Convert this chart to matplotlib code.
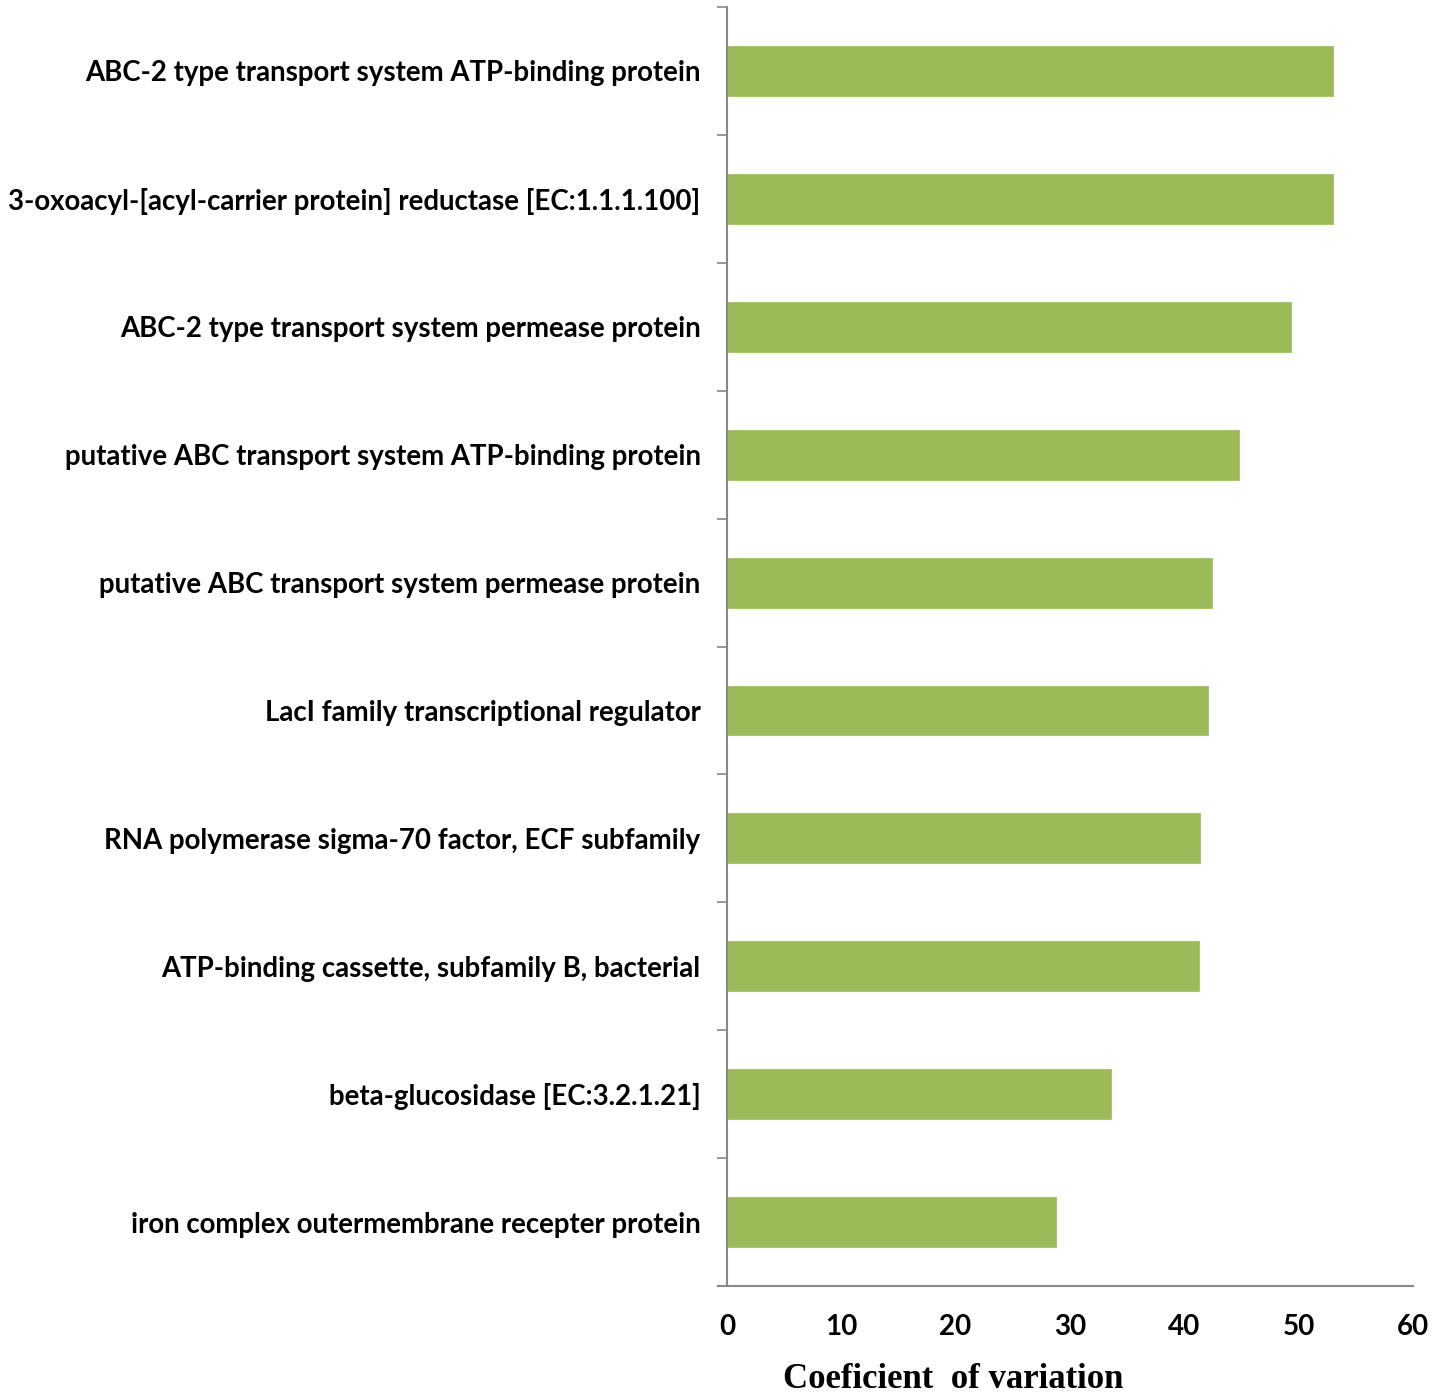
import matplotlib
matplotlib.use("Agg")
import matplotlib.pyplot as plt
import numpy as np

categories = [
    "ABC-2 type transport system ATP-binding protein",
    "3-oxoacyl-[acyl-carrier protein] reductase [EC:1.1.1.100]",
    "ABC-2 type transport system permease protein",
    "putative ABC transport system ATP-binding protein",
    "putative ABC transport system permease protein",
    "LacI family transcriptional regulator",
    "RNA polymerase sigma-70 factor, ECF subfamily",
    "ATP-binding cassette, subfamily B, bacterial",
    "beta-glucosidase [EC:3.2.1.21]",
    "iron complex outermembrane recepter protein",
]
values = [53.0, 53.0, 49.3, 44.8, 42.4, 42.1, 41.4, 41.3, 33.6, 28.8]
xticks = [0, 10, 20, 30, 40, 50, 60]
xlabel = "Coeficient  of variation"

fig = plt.figure(figsize=(14.48, 13.95), dpi=100)
ax = fig.add_axes([0.502, 0.0781, 0.4738, 0.9169])

y = np.arange(len(categories))
ax.barh(y, values, height=0.39, color="#9BBB59", edgecolor="#A9C66E", linewidth=0.8)
ax.set_ylim(len(categories) - 0.5, -0.5)
ax.set_xlim(0, 60)

ax.set_yticks(y)
ax.set_yticklabels(categories, fontfamily="Lato", fontweight="bold", fontsize=19.9)
ax.tick_params(axis="y", which="major", length=0, pad=19)
ax.set_yticks(np.arange(-0.5, len(categories) + 0.5, 1), minor=True)
ax.tick_params(axis="y", which="minor", length=7, width=1.2, color="#888888", direction="out")

ax.set_xticks(xticks)
ax.set_xticklabels([str(t) for t in xticks], fontfamily="Lato", fontweight="bold", fontsize=20)
ax.tick_params(axis="x", length=0, pad=20)

fig.text(953 / 1448, 0.005, xlabel, ha="center", va="baseline",
         fontfamily="Liberation Serif", fontweight="bold", fontsize=25)

for s in ["top", "right"]:
    ax.spines[s].set_visible(False)
for s in ["left", "bottom"]:
    ax.spines[s].set_color("#888888")
    ax.spines[s].set_linewidth(1.5)
ax.spines["bottom"].set_bounds(-0.8, 60)

fig.savefig("out.png", dpi=100)
